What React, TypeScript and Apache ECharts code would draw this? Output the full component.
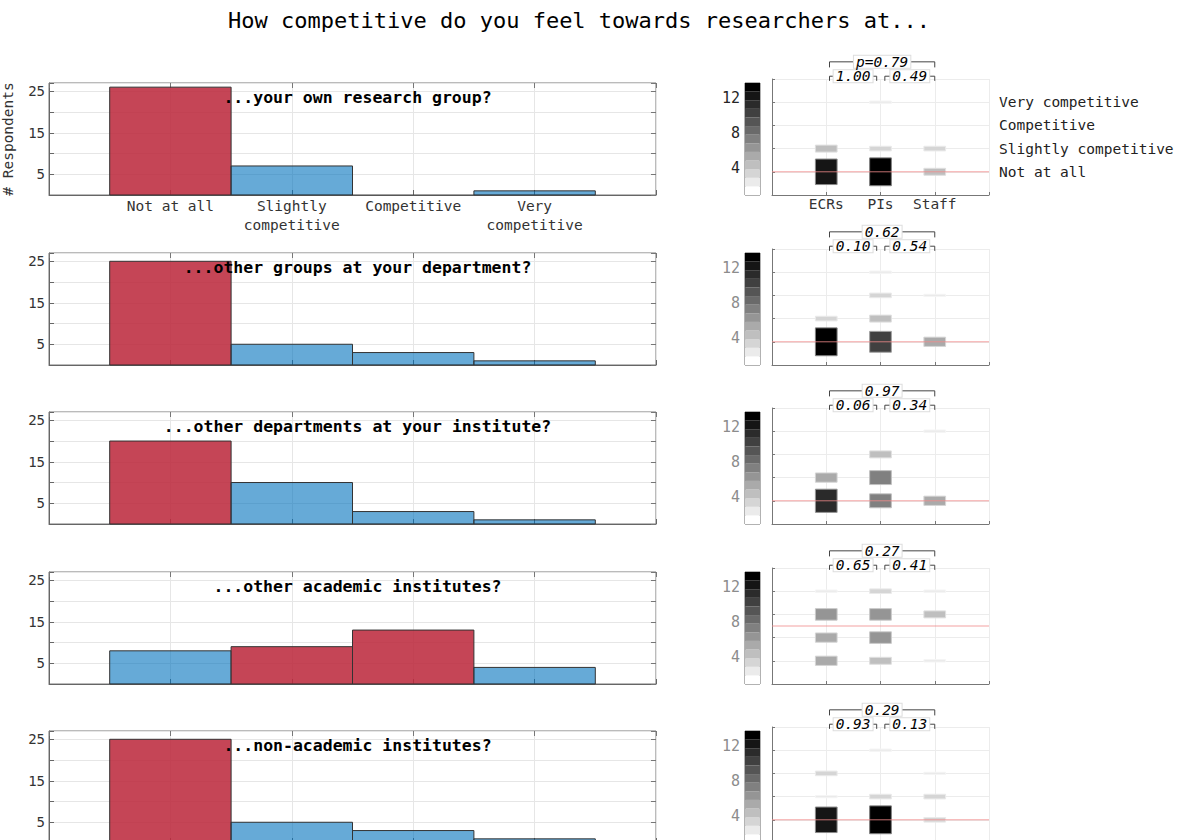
import React, { useEffect, useRef } from 'react';
import * as echarts from 'echarts';

const FONT = '"DejaVu Sans Mono", monospace';

// ---------------- data ----------------
const mainTitle = 'How competitive do you feel towards researchers at...';
const questions = [
  '...your own research group?',
  '...other groups at your department?',
  '...other departments at your institute?',
  '...other academic institutes?',
  '...non-academic institutes?',
];
const answerLabels = ['Not at all', 'Slightly\ncompetitive', 'Competitive', 'Very\ncompetitive'];
const levelLabels = ['Not at all', 'Slightly competitive', 'Competitive', 'Very competitive'];
const groupLabels = ['ECRs', 'PIs', 'Staff'];

// respondents per answer (Not at all, Slightly, Competitive, Very)
const respondents = [
  [26, 7, 0, 1],
  [25, 5, 3, 1],
  [20, 10, 3, 1],
  [8, 9, 13, 4],
  [25, 5, 3, 1],
];
// answers (1-based) whose bar holds the median
const medianAnswers = [[1], [1], [1], [2, 3], [1]];
const medians = [1, 1, 1, 2.5, 1];

// counts per group and answer level
const ecrCounts = [
  [11, 3, 0, 0],
  [12, 2, 0, 0],
  [10, 4, 0, 0],
  [4, 4, 5, 1],
  [11, 1, 2, 0],
];
const piCounts = [
  [12, 2, 0, 1],
  [9, 3, 2, 1],
  [6, 6, 3, 0],
  [3, 5, 5, 2],
  [12, 2, 0, 1],
];
const staffCounts = [
  [3, 2, 0, 0],
  [4, 0, 1, 0],
  [4, 0, 0, 1],
  [1, 0, 3, 1],
  [2, 2, 1, 0],
];

const pOverall = ['p=0.79', '0.62', '0.97', '0.27', '0.29'];
const pEcrPi = ['1.00', '0.10', '0.06', '0.65', '0.93'];
const pPiStaff = ['0.49', '0.54', '0.34', '0.41', '0.13'];

const countTickLabels = [5, 15, 25];
const colorbarTicks = [4, 8, 12];
const colorbarGrays = [
  '#ffffff', '#ebebeb', '#d5d5d5', '#bfbfbf', '#aaaaaa', '#959595', '#808080',
  '#6a6a6a', '#555555', '#404040', '#2b2b2b', '#151515', '#000000',
];

// ---------------- layout ----------------
const ROW_TOP = [79, 249, 408, 568, 727];
const BAR_LEFT = 49;
const BAR_W = 607;
const BAR_H = 112;
const HEAT_LEFT = 772;
const HEAT_W = 217;
const HEAT_H = 116;
const CB_LEFT = 745;
const CB_W = 15;
const CB_MIN = 0.95;
const CB_MAX = 13.65;

const RED = 'rgba(189,43,63,0.88)';
const BLUE = 'rgba(0,114,189,0.6)';

function buildOption() {
  const grids: any[] = [];
  const xAxes: any[] = [];
  const yAxes: any[] = [];
  const series: any[] = [];
  const titles: any[] = [
    {
      text: mainTitle,
      left: 574,
      top: 4,
      textAlign: 'center',
      textStyle: { fontFamily: FONT, fontSize: 22, fontWeight: 'normal', color: '#000' },
    },
  ];

  for (let r = 0; r < questions.length; r++) {
    const top = ROW_TOP[r];
    const first = r === 0;
    titles.push({
      text: questions[r],
      left: BAR_LEFT + BAR_W / 2,
      top: top + 5,
      textAlign: 'center',
      textStyle: { fontFamily: FONT, fontSize: 16.5, fontWeight: 'bold', color: '#000' },
      z: 20,
    });

    // grids
    grids.push({
      left: BAR_LEFT, top: top + 4, width: BAR_W, height: BAR_H,
      show: true, borderColor: '#777', borderWidth: 1, backgroundColor: 'transparent',
      containLabel: false, outerBoundsMode: 'none',
    });
    grids.push({
      left: HEAT_LEFT, top: top, width: HEAT_W, height: HEAT_H,
      containLabel: false, outerBoundsMode: 'none',
    });
    grids.push({
      left: CB_LEFT, top: top + 4, width: CB_W, height: BAR_H,
      show: true, borderColor: '#666', borderWidth: 1, backgroundColor: 'transparent',
      containLabel: false, outerBoundsMode: 'none',
    });
    const gBar = 3 * r, gHeat = 3 * r + 1, gCb = 3 * r + 2;

    // x axes: bar bottom (4r), bar top (4r+1), heat (4r+2), colorbar (4r+3)
    xAxes.push({
      type: 'value', gridIndex: gBar, min: 0, max: 5, interval: 1,
      axisLine: { show: true, onZero: false, lineStyle: { color: '#666' } },
      axisTick: { show: true, inside: true, length: 5, lineStyle: { color: '#666' } },
      axisLabel: {
        show: first, margin: 1, fontFamily: FONT, fontSize: 14.5, color: '#333', lineHeight: 19,
        formatter: (v: number) => answerLabels[v - 1] ?? '',
      },
      splitLine: { show: true, lineStyle: { color: '#e6e6e6' } },
    });
    xAxes.push({
      type: 'value', gridIndex: gBar, min: 0, max: 5, interval: 1, position: 'top',
      axisLine: { show: false, onZero: false },
      axisTick: { show: true, inside: true, length: 5, lineStyle: { color: '#777' } },
      axisLabel: { show: false },
      splitLine: { show: false },
    });
    xAxes.push({
      type: 'value', gridIndex: gHeat, min: 0, max: 4, interval: 1,
      axisLine: { show: true, onZero: false, lineStyle: { color: '#777' } },
      axisTick: { show: true, inside: true, length: 3, lineStyle: { color: '#777' } },
      axisLabel: {
        show: first, margin: 1, fontFamily: FONT, fontSize: 14.5, color: '#333',
        formatter: (v: number) => groupLabels[v - 1] ?? '',
      },
      splitLine: { show: true, lineStyle: { color: '#ececec' } },
    });
    xAxes.push({ type: 'value', gridIndex: gCb, min: 0, max: 1, show: false });
    const xBar = 4 * r, xHeat = 4 * r + 2, xCb = 4 * r + 3;

    // y axes: bar left (5r), bar right (5r+1), heat left (5r+2), heat right (5r+3), colorbar (5r+4)
    yAxes.push({
      type: 'value', gridIndex: gBar, min: 0, max: 27, interval: 5,
      name: first ? '# Respondents' : '',
      nameLocation: 'middle', nameRotate: 90, nameGap: 34,
      nameTextStyle: { fontFamily: FONT, fontSize: 14.5, color: '#333' },
      axisLine: { show: true, onZero: false, lineStyle: { color: '#666' } },
      axisTick: { show: true, inside: true, length: 5, lineStyle: { color: '#666' } },
      axisLabel: {
        margin: 4, fontFamily: FONT, fontSize: 14, color: '#333',
        formatter: (v: number) => (countTickLabels.includes(v) ? String(v) : ''),
      },
      splitLine: { show: true, lineStyle: { color: '#e6e6e6' } },
    });
    yAxes.push({
      type: 'value', gridIndex: gBar, min: 0, max: 27, interval: 5, position: 'right',
      axisLine: { show: false, onZero: false },
      axisTick: { show: true, inside: true, length: 5, lineStyle: { color: '#777' } },
      axisLabel: { show: false },
      splitLine: { show: false },
    });
    yAxes.push({
      type: 'value', gridIndex: gHeat, min: 0, max: 5, interval: 1,
      axisLine: { show: true, onZero: false, lineStyle: { color: '#777' } },
      axisTick: { show: true, inside: true, length: 3, lineStyle: { color: '#777' } },
      axisLabel: { show: false },
      splitLine: { show: true, lineStyle: { color: '#ececec' } },
    });
    yAxes.push({
      type: 'value', gridIndex: gHeat, min: 0, max: 5, interval: 1, position: 'right',
      axisLine: { show: false, onZero: false }, axisTick: { show: false },
      axisLabel: {
        show: first, margin: 10, fontFamily: FONT, fontSize: 14.5, color: '#222',
        formatter: (v: number) => levelLabels[v - 1] ?? '',
      },
      splitLine: { show: false },
    });
    yAxes.push({
      type: 'value', gridIndex: gCb, min: CB_MIN, max: CB_MAX,
      axisLine: { show: false, onZero: false },
      axisTick: { show: true, inside: true, length: 3, customValues: colorbarTicks, lineStyle: { color: '#666' } },
      axisLabel: {
        show: true, margin: 5, fontFamily: FONT, fontSize: 15,
        color: first ? '#262626' : '#8c8c8c', customValues: colorbarTicks,
      },
      splitLine: { show: false },
    });
    const yBar = 5 * r, yHeat = 5 * r + 2, yCb = 5 * r + 4;

    // bars
    const highlight = medianAnswers[r];
    series.push({
      type: 'custom', xAxisIndex: xBar, yAxisIndex: yBar, silent: true, z: 2,
      encode: { x: 0, y: 1 },
      data: respondents[r].map((v, i) => [i + 1, v]),
      renderItem: (params: any, api: any) => {
        const x = api.value(0);
        const v = api.value(1);
        const p0 = api.coord([x - 0.5, v]);
        const p1 = api.coord([x + 0.5, 0]);
        const red = highlight.includes(x);
        return {
          type: 'rect',
          shape: { x: p0[0], y: p0[1], width: p1[0] - p0[0], height: p1[1] - p0[1] },
          style: { fill: red ? RED : BLUE, stroke: v > 0 ? '#333' : 'rgba(0,0,0,0.15)', lineWidth: 1 },
        };
      },
    });

    // heat cells
    const cells: number[][] = [];
    [ecrCounts[r], piCounts[r], staffCounts[r]].forEach((counts, g) => {
      counts.forEach((c, l) => {
        if (c > 0) cells.push([g + 1, l + 1, c]);
      });
    });
    series.push({
      type: 'custom', xAxisIndex: xHeat, yAxisIndex: yHeat, silent: true, z: 2,
      encode: { x: 0, y: 1 },
      data: cells,
      renderItem: (params: any, api: any) => {
        const g = api.value(0);
        const l = api.value(1);
        const c = api.value(2);
        const half = c * 0.05;
        const p0 = api.coord([g - 0.2, l + half]);
        const p1 = api.coord([g + 0.2, l - half]);
        const gray = Math.max(0, Math.round(255 * (1 - c / 12)));
        const sg = Math.round((gray + 255) / 2);
        return {
          type: 'rect',
          shape: { x: p0[0], y: p0[1], width: p1[0] - p0[0], height: p1[1] - p0[1] },
          style: { fill: `rgb(${gray},${gray},${gray})`, stroke: `rgb(${sg},${sg},${sg})`, lineWidth: 1 },
        };
      },
    });

    // median line
    series.push({
      type: 'custom', xAxisIndex: xHeat, yAxisIndex: yHeat, silent: true, z: 3,
      encode: { x: 0, y: 1 },
      data: [[0, medians[r]]],
      renderItem: (params: any, api: any) => {
        const m = api.value(1);
        const a = api.coord([0, m]);
        const b = api.coord([4, m]);
        return {
          type: 'line',
          shape: { x1: a[0], y1: a[1], x2: b[0], y2: b[1] },
          style: { stroke: '#f08a8a', lineWidth: 1, opacity: 0.8 },
        };
      },
    });

    // significance brackets
    const pLabels = [pEcrPi[r], pPiStaff[r], pOverall[r]];
    series.push({
      type: 'custom', xAxisIndex: xHeat, yAxisIndex: yHeat, silent: true, z: 4, clip: false,
      encode: { x: 0, y: 2 },
      data: [
        [1.06, 1.93, 0],
        [2.08, 3.0, 0],
        [1.06, 3.0, 1],
      ],
      renderItem: (params: any, api: any) => {
        const x1 = api.value(0);
        const x2 = api.value(1);
        const lev = api.value(2);
        const yLine = lev ? 5.74 : 5.12;
        const yEnd = lev ? 5.5 : 4.92;
        const a = api.coord([x1, yEnd]);
        const b = api.coord([x1, yLine]);
        const c = api.coord([x2, yLine]);
        const d = api.coord([x2, yEnd]);
        return {
          type: 'group',
          children: [
            {
              type: 'polyline',
              shape: { points: [a, b, c, d] },
              style: { stroke: '#444', lineWidth: 1, fill: null },
            },
            {
              type: 'text',
              x: (b[0] + c[0]) / 2,
              y: b[1],
              style: {
                text: pLabels[params.dataIndex],
                fontFamily: FONT, fontSize: 14.5, fontStyle: 'italic', fill: '#000',
                lineHeight: 12, align: 'center', verticalAlign: 'middle',
                backgroundColor: '#fff', borderColor: '#dddddd', borderWidth: 1, padding: [0, 2, 0, 2],
              },
            },
          ],
        };
      },
    });

    // colorbar
    const step = (CB_MAX - CB_MIN) / colorbarGrays.length;
    series.push({
      type: 'custom', xAxisIndex: xCb, yAxisIndex: yCb, silent: true, z: 1,
      encode: { x: 0, y: 1 },
      data: colorbarGrays.map((_, i) => [0, i]),
      renderItem: (params: any, api: any) => {
        const i = api.value(1);
        const p0 = api.coord([0, CB_MIN + (i + 1) * step]);
        const p1 = api.coord([1, CB_MIN + i * step]);
        return {
          type: 'rect',
          shape: { x: p0[0], y: p0[1], width: p1[0] - p0[0], height: p1[1] - p0[1] },
          style: { fill: colorbarGrays[i], stroke: null },
        };
      },
    });
  }

  return {
    animation: false,
    backgroundColor: '#ffffff',
    textStyle: { fontFamily: FONT },
    title: titles,
    grid: grids,
    xAxis: xAxes,
    yAxis: yAxes,
    series,
  };
}

export default function App() {
  const ref = useRef<HTMLDivElement>(null);
  useEffect(() => {
    if (!ref.current) return;
    const chart = echarts.init(ref.current, null, { renderer: 'svg' });
    chart.setOption(buildOption() as any);
    return () => {
      chart.dispose();
    };
  }, []);
  return (
    <div
      ref={ref}
      style={{ position: 'absolute', left: 0, top: 0, width: 1180, height: 840, background: '#fff' }}
    />
  );
}
